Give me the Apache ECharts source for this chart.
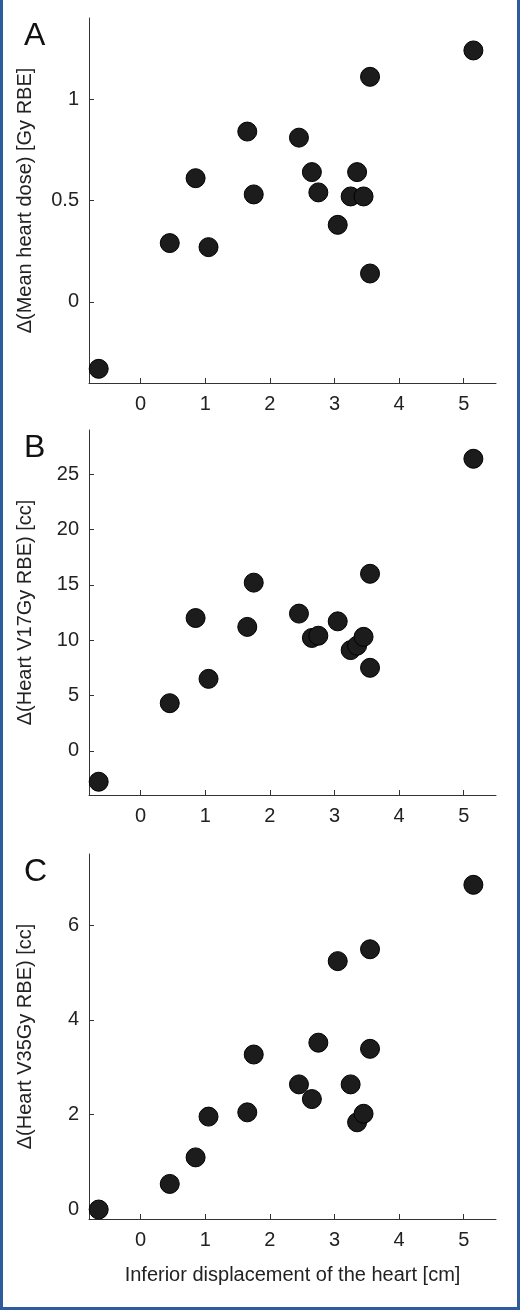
<!DOCTYPE html>
<html><head><meta charset="utf-8">
<script src="https://cdn.jsdelivr.net/npm/echarts@6/dist/echarts.min.js"></script>
<style>html,body{margin:0;padding:0;background:#fff}#c{width:520px;height:1310px;position:absolute;left:0;top:0}#f{position:absolute;left:0;top:0;width:520px;height:1310px;box-sizing:border-box;border:3px solid #2e5c9a;border-top:none;pointer-events:none}</style>
</head><body><div id="c"></div><div id="f"></div>
<script>
const xDisp = [-0.65,0.45,0.85,1.05,1.65,1.75,2.45,2.65,2.75,3.05,3.25,3.35,3.45,3.55,3.55,5.15];
const meanDose = [-0.33,0.29,0.61,0.27,0.84,0.53,0.81,0.64,0.54,0.38,0.52,0.64,0.52,1.11,0.14,1.24];
const xB = [-0.65,0.45,0.85,1.05,1.65,1.75,2.45,2.65,2.75,3.05,3.25,3.35,3.45,3.55,3.55,5.15];
const v17 = [-2.8,4.3,12.0,6.5,11.2,15.2,12.4,10.2,10.4,11.7,9.1,9.5,10.3,16.0,7.5,26.4];
const xC = [-0.65,0.45,0.85,1.05,1.65,1.75,2.45,2.65,2.75,3.05,3.25,3.35,3.45,3.55,3.55,5.15];
const v35 = [0.0,0.54,1.10,1.96,2.05,3.27,2.64,2.33,3.52,5.24,2.64,1.84,2.02,5.49,3.39,6.85];
const xTicks = [0,1,2,3,4,5];
const yTicksA = [0,0.5,1];
const yTicksB = [0,5,10,15,20,25];
const yTicksC = [0,2,4,6];
const yNames = ['\u0394(Mean heart dose) [Gy RBE]','\u0394(Heart V17Gy RBE) [cc]','\u0394(Heart V35Gy RBE) [cc]'];
const letters = ['A','B','C'];
const font = 'Liberation Sans, Arial, sans-serif';
const tops = [18,430,854];
const yr = [[-0.4,1.4],[-4,29],[-0.2,7.5]];
const yt = [yTicksA,yTicksB,yTicksC];
const xs = [xDisp,xB,xC];
const ys = [meanDose,v17,v35];
const lineStyle = {color:'#333',width:1};
const chart = echarts.init(document.getElementById('c'));
const grid=[],xAxis=[],yAxis=[],series=[],graphic=[];
for(let i=0;i<3;i++){
  grid.push({left:89,width:407,top:tops[i],height:365});
  xAxis.push({type:'value',gridIndex:i,min:-0.8,max:5.5,
    axisLine:{onZero:false,lineStyle},splitLine:{show:false},
    axisTick:{inside:true,length:5,lineStyle,customValues:xTicks},
    axisLabel:{customValues:xTicks,fontSize:20,color:'#222',fontFamily:font,margin:11},
    name:i===2?'Inferior displacement of the heart [cm]':'',nameLocation:'middle',nameGap:46,
    nameTextStyle:{fontSize:20,color:'#222',fontFamily:font}});
  yAxis.push({type:'value',gridIndex:i,min:yr[i][0],max:yr[i][1],
    axisLine:{show:true,onZero:false,lineStyle},splitLine:{show:false},
    axisTick:{show:true,inside:true,length:5,lineStyle,customValues:yt[i]},
    axisLabel:{customValues:yt[i],fontSize:20,color:'#222',fontFamily:font,margin:10},
    name:yNames[i],nameLocation:'middle',nameGap:54,nameRotate:90,
    nameTextStyle:{fontSize:20,color:'#222',fontFamily:font}});
  series.push({type:'scatter',xAxisIndex:i,yAxisIndex:i,symbolSize:19,
    itemStyle:{color:'#1c1c1c',borderColor:'#000',borderWidth:1,opacity:1},
    data:xs[i].map((x,j)=>[x,ys[i][j]])});
  graphic.push({type:'text',left:24,top:tops[i]+2,style:{text:letters[i],fontSize:32,fill:'#111',fontFamily:font}});
}
chart.setOption({animation:false,grid,xAxis,yAxis,series,graphic});
</script></body></html>
